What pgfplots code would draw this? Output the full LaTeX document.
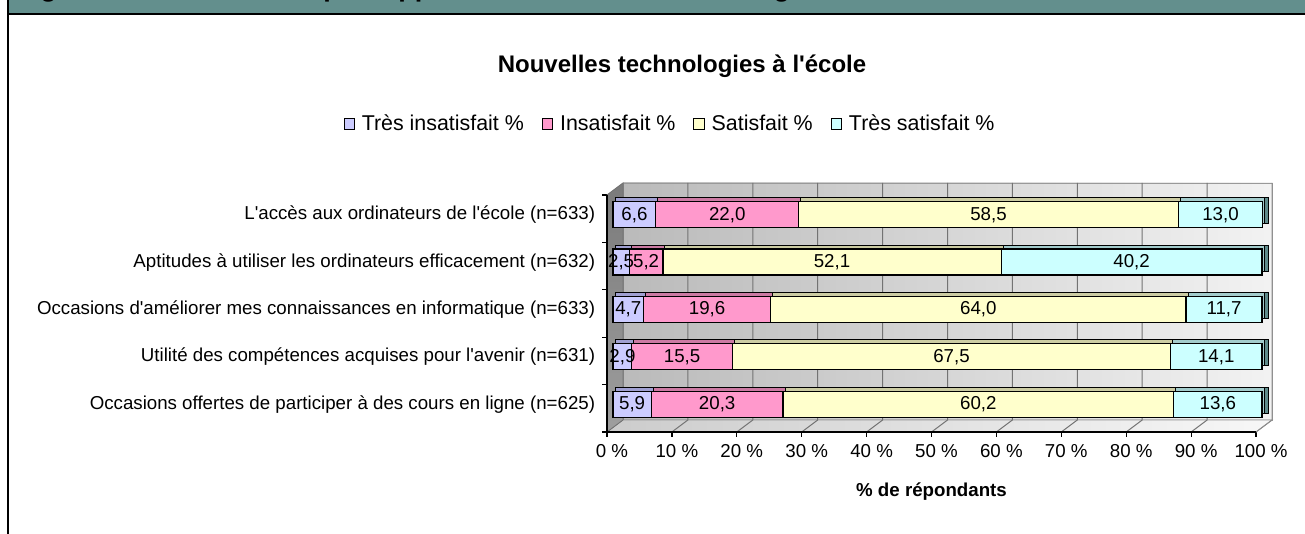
\documentclass[border=0pt]{standalone}
\usepackage{pgfplots}
\pgfplotsset{compat=1.18}
\usepackage{pgfplotstable}
\usepackage{fontspec}
\setmainfont{Liberation Sans}[Ligatures=TeXOff]
\definecolor{teal1}{HTML}{638F8D}
\definecolor{c1}{HTML}{CCCCFF}
\definecolor{c2}{HTML}{FF99CC}
\definecolor{c3}{HTML}{FFFFCC}
\definecolor{c4}{HTML}{CCFFFF}
\definecolor{t1}{HTML}{A0A0D2}
\definecolor{t2}{HTML}{CC7AA3}
\definecolor{t3}{HTML}{CCCCA3}
\definecolor{t4}{HTML}{A3CCCC}
\definecolor{s4}{HTML}{5F8A8A}
\newcommand\lab{\fontsize{9.35}{11}\selectfont}
\newcommand\leg{\fontsize{10.7}{12}\selectfont}

\pgfplotstableread{
y  ti   in   sa   ts
0  5.9  20.3 60.2 13.6
1  2.9  15.5 67.5 14.1
2  4.7  19.6 64.0 11.7
3  2.5  5.2  52.1 40.2
4  6.6  22.0 58.5 13.0
}\data

\pgfplotsset{
  base/.style={scale only axis, width=324.5pt, height=118.5pt,
    xmin=0, xmax=100, ymin=-0.5, ymax=4.5, anchor=south west, clip=false},
  sq/.style={legend image code/.code={\draw[##1,draw=black,line width=0.4pt] (0pt,-2.6pt) rectangle (5.2pt,2.6pt);}},
}

\begin{document}
\begin{tikzpicture}
\useasboundingbox (0,0) rectangle (652.5pt,267pt);
% frame
\fill[teal1] (4.5pt,260.65pt) rectangle (653pt,268pt);
\node[anchor=base west, inner sep=0pt, font=\bfseries\fontsize{13.5}{16}\selectfont] at (8pt,268.6pt) {Figure 10 : Satisfaction par rapport aux nouvelles technologies};
\fill[black] (3.5pt,259.5pt) rectangle (653pt,260.65pt);
\fill[black] (3.5pt,-1pt) rectangle (4.5pt,268pt);

% front plane, walls, ticks, labels
\begin{axis}[base, at={(303.5pt,51pt)},
  axis line style={draw=none},
  xtick={0,10,...,100},
  xticklabel={\pgfmathprintnumber{\tick}\ \%},
  /pgf/number format/assume math mode=true,
  xticklabel style={font=\lab, xshift=2.5pt},
  ytick={-0.5,0.5,1.5,2.5,3.5,4.5},
  yticklabels={},
  extra y ticks={0,1,2,3,4},
  extra y tick labels={Occasions offertes de participer à des cours en ligne (n=625),Utilité des compétences acquises pour l'avenir (n=631),Occasions d'améliorer mes connaissances en informatique (n=633),Aptitudes à utiliser les ordinateurs efficacement (n=632),L'accès aux ordinateurs de l'école (n=633)},
  extra y tick style={major tick length=0pt, yticklabel style={font=\lab, xshift=-2.4pt, yshift=2pt}},
  xtick pos=left, ytick pos=left,
  tick align=outside, major tick length=2.5pt,
  tick style={black, line width=0.6pt},
]
\addplot[draw=none] coordinates {(0,0)};
% back wall
\fill[left color=black!27, right color=black!5, draw=black!40, line width=0.4pt]
  ([xshift=8pt,yshift=6pt]axis cs:0,-0.5) rectangle ([xshift=8pt,yshift=6pt]axis cs:100,4.5);
% floor
\fill[left color=black!20, right color=black!3, draw=black!40, line width=0.4pt]
  (axis cs:0,-0.5) -- (axis cs:100,-0.5) -- ([xshift=8pt,yshift=6pt]axis cs:100,-0.5) -- ([xshift=8pt,yshift=6pt]axis cs:0,-0.5) -- cycle;
% left wall
\fill[top color=black!52, bottom color=black!38, draw=black!55, line width=0.4pt]
  (axis cs:0,4.5) -- (axis cs:0,-0.5) -- ([xshift=8pt,yshift=6pt]axis cs:0,-0.5) -- ([xshift=8pt,yshift=6pt]axis cs:0,4.5) -- cycle;
% grid
\pgfplotsinvokeforeach{10,20,...,90}{
  \draw[black!55, line width=0.5pt] ([xshift=8pt,yshift=6pt]axis cs:#1,4.5) -- ([xshift=8pt,yshift=6pt]axis cs:#1,-0.5) -- (axis cs:#1,-0.5);
}
\draw[black!45, line width=0.5pt] ([xshift=8pt,yshift=6pt]axis cs:100,4.5) -- ([xshift=8pt,yshift=6pt]axis cs:100,-0.5) -- (axis cs:100,-0.5);
% front axis lines
\draw[black, line width=0.6pt] (axis cs:0,4.5) -- (axis cs:0,-0.5) -- (axis cs:100,-0.5);
\end{axis}

% bar side faces
\begin{axis}[base, at={(309.5pt,55pt)}, hide axis, xbar stacked, bar width=13pt]
\addplot[fill=s4, draw=black, line width=0.5pt] table[x=ti,y=y]{\data};
\addplot[fill=s4, draw=black, line width=0.5pt] table[x=in,y=y]{\data};
\addplot[fill=s4, draw=black, line width=0.5pt] table[x=sa,y=y]{\data};
\addplot[fill=s4, draw=black, line width=0.5pt] table[x=ts,y=y]{\data};
\end{axis}

% bar top faces
\begin{axis}[base, at={(307.5pt,55pt)}, hide axis, xbar stacked, bar width=13pt]
\addplot[fill=t1, draw=black, line width=0.5pt] table[x=ti,y=y]{\data};
\addplot[fill=t2, draw=black, line width=0.5pt] table[x=in,y=y]{\data};
\addplot[fill=t3, draw=black, line width=0.5pt] table[x=sa,y=y]{\data};
\addplot[fill=t4, draw=black, line width=0.5pt] table[x=ts,y=y]{\data};
\end{axis}

% bar front faces
\begin{axis}[base, at={(306.5pt,53pt)}, hide axis, xbar stacked, bar width=13pt,
  point meta=rawx,
  nodes near coords={\pgfmathprintnumber[fixed,fixed zerofill,precision=1,use comma,assume math mode=true]{\pgfplotspointmeta}},
  every node near coord/.append style={anchor=center, font=\lab, text=black, inner sep=0pt},
  legend columns=4,
  legend style={draw=none, fill=none, at={(axis description cs:0.0894,1.283)}, anchor=center, font=\leg,
    /tikz/every even column/.append style={column sep=7pt},
    /tikz/every odd column/.append style={column sep=1.5pt}},
]
\addplot[fill=c1, draw=black, line width=0.6pt, sq] table[x=ti,y=y]{\data};
\addplot[fill=c2, draw=black, line width=0.6pt, sq] table[x=in,y=y]{\data};
\addplot[fill=c3, draw=black, line width=0.6pt, sq] table[x=sa,y=y]{\data};
\addplot[fill=c4, draw=black, line width=0.6pt, sq] table[x=ts,y=y]{\data};
\legend{Très insatisfait \%, Insatisfait \%, Satisfait \%, Très satisfait \%}
\end{axis}

\node[font=\bfseries\fontsize{12}{14}\selectfont] at (341pt,234pt) {Nouvelles technologies à l'école};
\node[font=\bfseries\lab] at (465.75pt,21pt) {\% de répondants};
\end{tikzpicture}
\end{document}
